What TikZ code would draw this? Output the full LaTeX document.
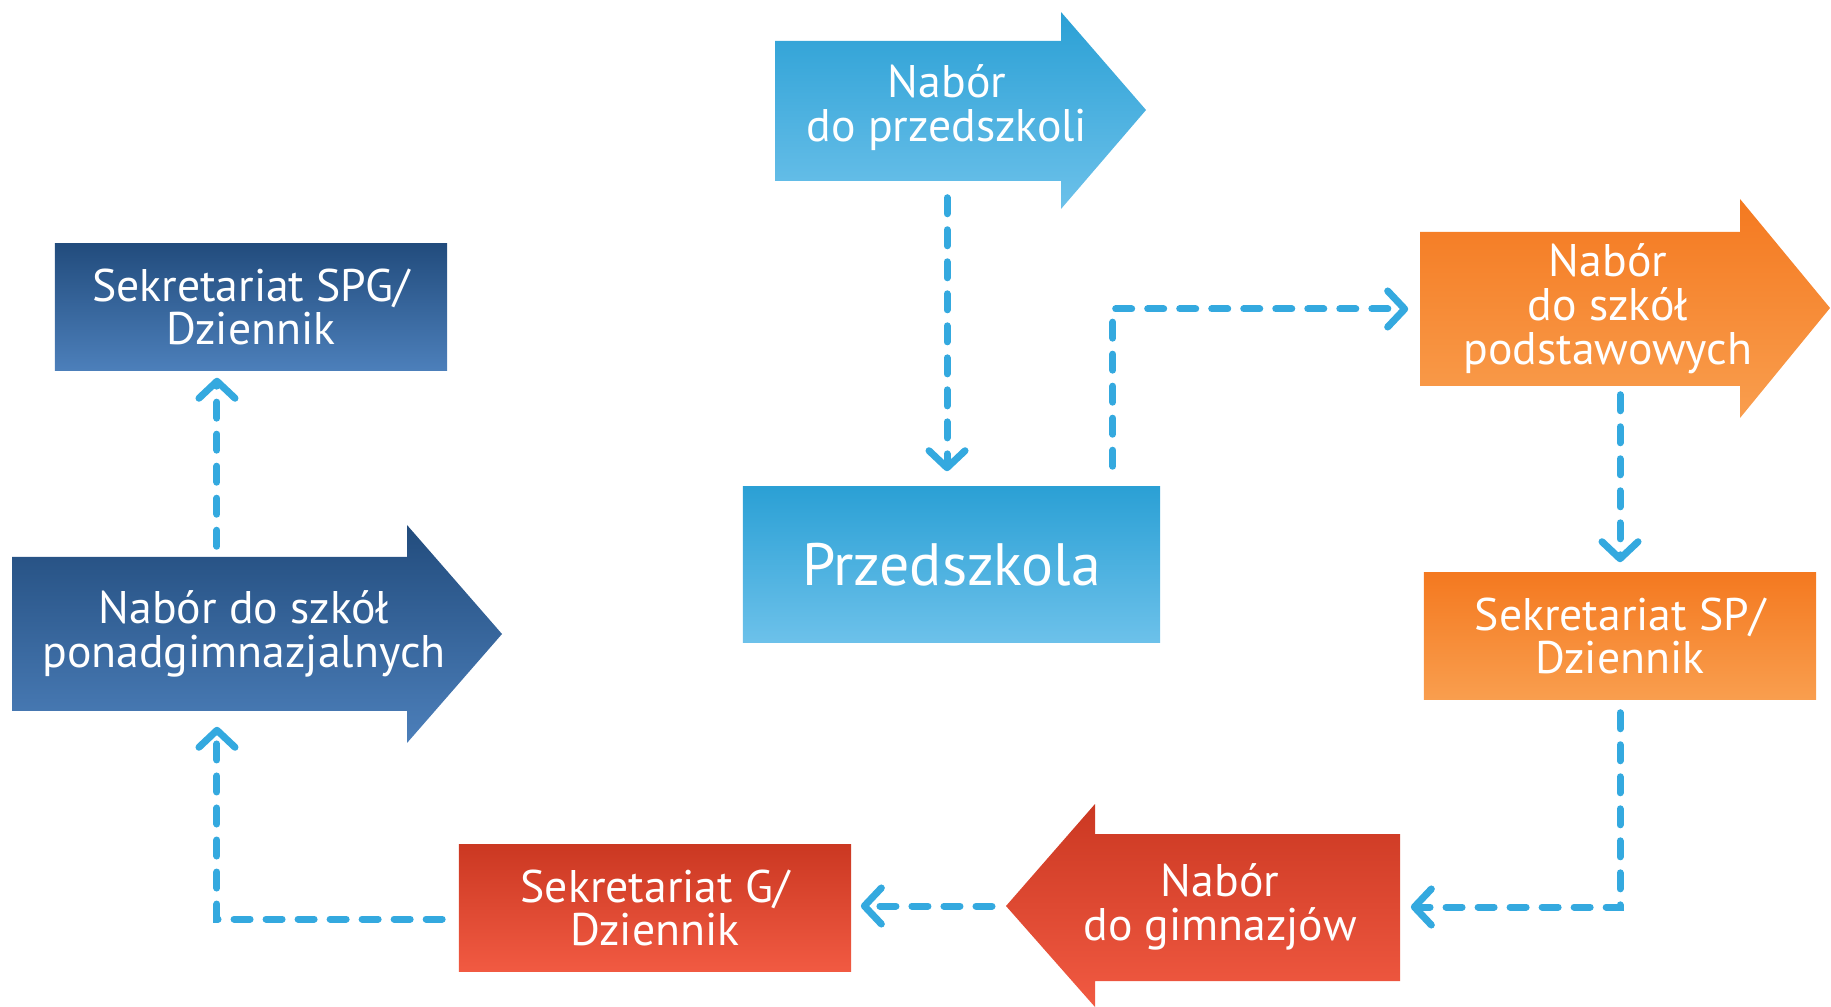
\documentclass[tikz,border=0pt]{standalone}
\usepackage{fontspec}
\setmainfont{PT Sans}
\usetikzlibrary{arrows.meta, calc}

\definecolor{lbtop}{HTML}{2BA0D5}
\definecolor{lbbot}{HTML}{6CC1EA}
\definecolor{dbtop}{HTML}{224C7D}
\definecolor{dbbot}{HTML}{4C7FBA}
\definecolor{ortop}{HTML}{F47920}
\definecolor{orbot}{HTML}{F99E4E}
\definecolor{rdtop}{HTML}{CB3822}
\definecolor{rdbot}{HTML}{F15A42}
\definecolor{flowblue}{HTML}{34A9DF}

\tikzset{
  flow/.style={draw=flowblue, line width=0.07cm, line cap=round, dash pattern=on 0.16cm off 0.16cm,
    -{Straight Barb[length=0.17cm, width=0.36cm, round]}},
  lbl/.style={text=white, align=center, inner sep=0pt, font=\fontsize{13pt}{12.5pt}\selectfont},
  sekr/.style={lbl, minimum width=3.92cm, minimum height=1.26cm}
}

\begin{document}
\begin{tikzpicture}[x=0.01cm, y=-0.01cm]
\useasboundingbox (0,0) rectangle (1831,1007);

% arrows
\shade[top color=lbtop, bottom color=lbbot] (775,41) -- (1061,41) -- (1061,12) -- (1146,110) -- (1061,209) -- (1061,181) -- (775,181) -- cycle;
\node[lbl, minimum height=1.4cm] (nprz) at (947,108) {Nabór\\do przedszkoli};

\shade[top color=ortop, bottom color=orbot] (1420,232) -- (1740,232) -- (1740,199) -- (1830,308) -- (1740,418) -- (1740,386) -- (1420,386) -- cycle;
\node[lbl, minimum width=3.76cm, minimum height=1.54cm] (nsp) at (1608,309) {Nabór\\do szkół\\podstawowych};

\coordinate (gtip) at (1006,906);
\shade[top color=rdtop, bottom color=rdbot] (1400,834) -- (1095,834) -- (1095,804) -- (gtip) -- (1095,1007) -- (1095,981) -- (1400,981) -- cycle;
\node[lbl, minimum width=3.6cm, minimum height=1.47cm] (ngim) at (1220,907) {Nabór\\do gimnazjów};

\shade[top color=dbtop, bottom color=dbbot] (12,557) -- (407,557) -- (407,525) -- (502,634) -- (407,743) -- (407,711) -- (12,711) -- cycle;
\node[lbl, minimum height=1.54cm] (npg) at (244,634) {Nabór do szkół\\ponadgimnazjalnych};

% boxes
\node[lbl, minimum width=4.17cm, minimum height=1.55cm, top color=lbtop, bottom color=lbbot,
  font=\fontsize{17pt}{20pt}\selectfont] (prz) at (951.5,564.5) {Przedszkola};
\node[sekr, top color=ortop, bottom color=orbot] (ssp) at (1620,636) {Sekretariat SP/\\Dziennik};
\node[sekr, top color=rdtop, bottom color=rdbot] (sg) at (655,908) {Sekretariat G/\\Dziennik};
\node[sekr, top color=dbtop, bottom color=dbbot] (sspg) at (251,307) {Sekretariat SPG/\\Dziennik};

% connectors
\draw[flow] ([yshift=-0.19cm]nprz.south) -- ([yshift=0.15cm]nprz.south |- prz.north);
\draw[flow] ([xshift=-0.48cm,yshift=0.2cm]prz.north east) |- ([xshift=-0.11cm]nsp.west);
\draw[flow] ([yshift=-0.08cm]ssp.north |- nsp.south) -- ([yshift=0.1cm]ssp.north);
\draw[flow] ([yshift=-0.13cm]ssp.south) |- ([xshift=0.1cm]ngim.east);
\draw[flow] ([xshift=-0.14cm]gtip) -- ([xshift=0.09cm]sg.east |- gtip);
\draw[flow] ([xshift=-0.16cm,yshift=-0.11cm]sg.west) -| ([xshift=-0.27cm,yshift=-0.15cm]npg.south);
\draw[flow] ([xshift=-0.27cm,yshift=0.1cm]npg.north) -- ([xshift=-0.27cm,yshift=-0.07cm]npg.north |- sspg.south);
\end{tikzpicture}
\end{document}
